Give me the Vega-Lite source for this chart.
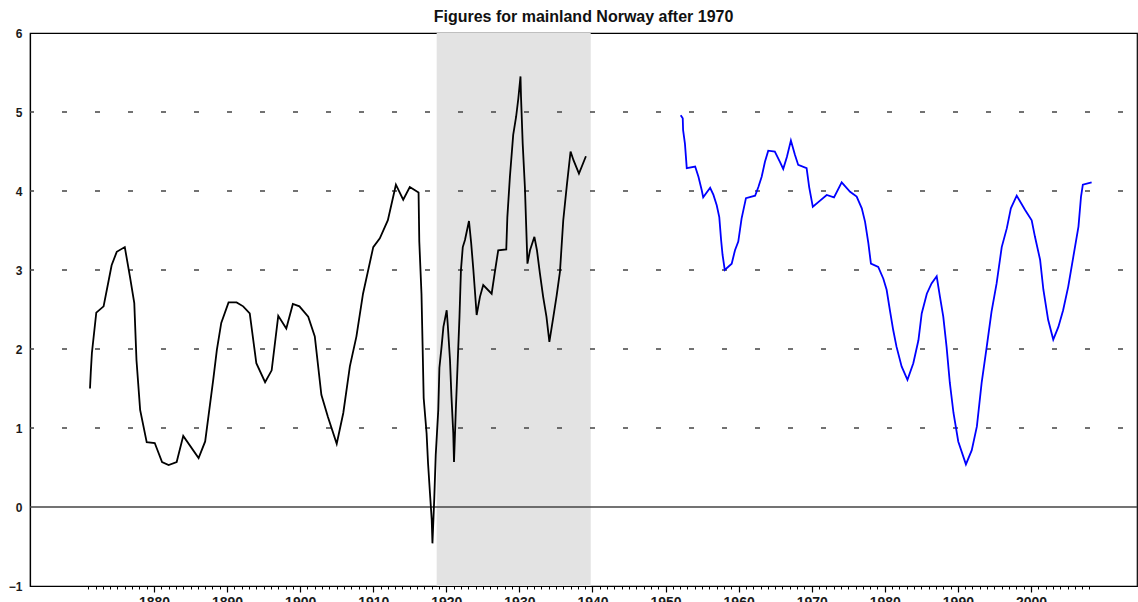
{
  "$schema": "https://vega.github.io/schema/vega-lite/v6.json",
  "width": 1107,
  "height": 553,
  "autosize": {"type": "none"},
  "padding": {"left": 30, "top": 33, "right": 1, "bottom": 16},
  "background": "#ffffff",
  "title": {"text": "Figures for mainland Norway after 1970", "font": "Liberation Sans", "fontSize": 16, "fontWeight": "bold", "color": "#111111", "anchor": "middle", "offset": 2},
  "config": {"view": {"stroke": "#000000", "strokeWidth": 1.2}},
  "resolve": {"axis": {"x": "independent"}},
  "datasets": {
    "band": [{"start": 1918.68, "end": 1939.76}],
    "grid": [{"g": 1}, {"g": 2}, {"g": 3}, {"g": 4}, {"g": 5}],
    "zero": [{"z": 0}],
    "series": [
      {"year": 1871.24, "v": 1.50, "s": "a"}, {"year": 1871.35, "v": 1.71, "s": "a"}, {"year": 1871.5, "v": 1.95, "s": "a"},
      {"year": 1872.1, "v": 2.46, "s": "a"}, {"year": 1873.1, "v": 2.54, "s": "a"}, {"year": 1873.8, "v": 2.87, "s": "a"},
      {"year": 1874.2, "v": 3.06, "s": "a"}, {"year": 1874.9, "v": 3.23, "s": "a"}, {"year": 1876.0, "v": 3.29, "s": "a"},
      {"year": 1876.7, "v": 2.92, "s": "a"}, {"year": 1877.3, "v": 2.58, "s": "a"}, {"year": 1877.6, "v": 1.86, "s": "a"},
      {"year": 1878.1, "v": 1.23, "s": "a"}, {"year": 1879.0, "v": 0.82, "s": "a"}, {"year": 1880.1, "v": 0.81, "s": "a"},
      {"year": 1881.1, "v": 0.57, "s": "a"}, {"year": 1882.0, "v": 0.53, "s": "a"}, {"year": 1883.1, "v": 0.57, "s": "a"},
      {"year": 1884.0, "v": 0.90, "s": "a"}, {"year": 1886.1, "v": 0.62, "s": "a"}, {"year": 1887.0, "v": 0.83, "s": "a"},
      {"year": 1888.1, "v": 1.61, "s": "a"}, {"year": 1888.6, "v": 1.99, "s": "a"}, {"year": 1889.2, "v": 2.33, "s": "a"},
      {"year": 1890.2, "v": 2.59, "s": "a"}, {"year": 1891.3, "v": 2.59, "s": "a"}, {"year": 1892.2, "v": 2.54, "s": "a"},
      {"year": 1893.1, "v": 2.45, "s": "a"}, {"year": 1894.0, "v": 1.82, "s": "a"}, {"year": 1895.2, "v": 1.58, "s": "a"},
      {"year": 1896.1, "v": 1.73, "s": "a"}, {"year": 1897.0, "v": 2.42, "s": "a"}, {"year": 1898.1, "v": 2.26, "s": "a"},
      {"year": 1899.0, "v": 2.57, "s": "a"}, {"year": 1899.9, "v": 2.54, "s": "a"}, {"year": 1901.1, "v": 2.41, "s": "a"},
      {"year": 1902.0, "v": 2.16, "s": "a"}, {"year": 1902.9, "v": 1.42, "s": "a"}, {"year": 1903.8, "v": 1.14, "s": "a"},
      {"year": 1905.0, "v": 0.80, "s": "a"}, {"year": 1905.9, "v": 1.19, "s": "a"}, {"year": 1906.8, "v": 1.78, "s": "a"},
      {"year": 1907.7, "v": 2.16, "s": "a"}, {"year": 1908.6, "v": 2.70, "s": "a"}, {"year": 1910.0, "v": 3.29, "s": "a"},
      {"year": 1910.9, "v": 3.40, "s": "a"}, {"year": 1912.0, "v": 3.63, "s": "a"}, {"year": 1913.1, "v": 4.08, "s": "a"},
      {"year": 1914.1, "v": 3.89, "s": "a"}, {"year": 1915.0, "v": 4.05, "s": "a"}, {"year": 1916.2, "v": 3.98, "s": "a"},
      {"year": 1916.3, "v": 3.36, "s": "a"}, {"year": 1916.6, "v": 2.70, "s": "a"}, {"year": 1916.75, "v": 2.05, "s": "a"},
      {"year": 1916.9, "v": 1.38, "s": "a"}, {"year": 1917.3, "v": 0.93, "s": "a"}, {"year": 1917.5, "v": 0.55, "s": "a"},
      {"year": 1917.75, "v": 0.19, "s": "a"}, {"year": 1918.0, "v": -0.16, "s": "a"}, {"year": 1918.1, "v": -0.46, "s": "a"},
      {"year": 1918.35, "v": 0.11, "s": "a"}, {"year": 1918.55, "v": 0.66, "s": "a"}, {"year": 1918.9, "v": 1.23, "s": "a"},
      {"year": 1919.05, "v": 1.76, "s": "a"}, {"year": 1919.35, "v": 2.03, "s": "a"}, {"year": 1919.6, "v": 2.28, "s": "a"},
      {"year": 1920.05, "v": 2.49, "s": "a"}, {"year": 1920.2, "v": 2.30, "s": "a"}, {"year": 1920.5, "v": 1.86, "s": "a"},
      {"year": 1920.7, "v": 1.40, "s": "a"}, {"year": 1920.95, "v": 0.93, "s": "a"}, {"year": 1921.05, "v": 0.57, "s": "a"},
      {"year": 1921.3, "v": 1.23, "s": "a"}, {"year": 1921.55, "v": 1.82, "s": "a"}, {"year": 1921.8, "v": 2.41, "s": "a"},
      {"year": 1922.0, "v": 3.00, "s": "a"}, {"year": 1922.25, "v": 3.29, "s": "a"}, {"year": 1922.55, "v": 3.38, "s": "a"},
      {"year": 1923.1, "v": 3.62, "s": "a"}, {"year": 1923.4, "v": 3.34, "s": "a"}, {"year": 1923.7, "v": 3.00, "s": "a"},
      {"year": 1923.9, "v": 2.75, "s": "a"}, {"year": 1924.15, "v": 2.43, "s": "a"}, {"year": 1924.6, "v": 2.66, "s": "a"},
      {"year": 1925.05, "v": 2.81, "s": "a"}, {"year": 1926.2, "v": 2.70, "s": "a"}, {"year": 1926.65, "v": 2.98, "s": "a"},
      {"year": 1927.1, "v": 3.25, "s": "a"}, {"year": 1928.2, "v": 3.26, "s": "a"}, {"year": 1928.35, "v": 3.67, "s": "a"},
      {"year": 1928.7, "v": 4.18, "s": "a"}, {"year": 1929.15, "v": 4.71, "s": "a"}, {"year": 1929.55, "v": 4.94, "s": "a"},
      {"year": 1929.85, "v": 5.17, "s": "a"}, {"year": 1930.15, "v": 5.45, "s": "a"}, {"year": 1930.22, "v": 5.19, "s": "a"},
      {"year": 1930.45, "v": 4.60, "s": "a"}, {"year": 1930.75, "v": 4.05, "s": "a"}, {"year": 1931.1, "v": 3.08, "s": "a"},
      {"year": 1931.45, "v": 3.25, "s": "a"}, {"year": 1932.05, "v": 3.42, "s": "a"}, {"year": 1932.4, "v": 3.25, "s": "a"},
      {"year": 1932.8, "v": 2.96, "s": "a"}, {"year": 1933.25, "v": 2.66, "s": "a"}, {"year": 1933.7, "v": 2.41, "s": "a"},
      {"year": 1934.1, "v": 2.09, "s": "a"}, {"year": 1934.65, "v": 2.41, "s": "a"}, {"year": 1935.1, "v": 2.68, "s": "a"},
      {"year": 1935.55, "v": 2.98, "s": "a"}, {"year": 1936.0, "v": 3.63, "s": "a"}, {"year": 1936.5, "v": 4.08, "s": "a"},
      {"year": 1937.0, "v": 4.50, "s": "a"}, {"year": 1937.4, "v": 4.39, "s": "a"}, {"year": 1938.15, "v": 4.22, "s": "a"},
      {"year": 1939.1, "v": 4.44, "s": "a"},
      {"year": 1952.07, "v": 4.96, "s": "b"}, {"year": 1952.35, "v": 4.92, "s": "b"}, {"year": 1952.4, "v": 4.77, "s": "b"},
      {"year": 1952.65, "v": 4.60, "s": "b"}, {"year": 1952.9, "v": 4.29, "s": "b"}, {"year": 1954.05, "v": 4.31, "s": "b"},
      {"year": 1954.5, "v": 4.18, "s": "b"}, {"year": 1954.95, "v": 4.01, "s": "b"}, {"year": 1955.15, "v": 3.92, "s": "b"},
      {"year": 1956.1, "v": 4.04, "s": "b"}, {"year": 1956.55, "v": 3.95, "s": "b"}, {"year": 1957.0, "v": 3.82, "s": "b"},
      {"year": 1957.35, "v": 3.67, "s": "b"}, {"year": 1957.6, "v": 3.38, "s": "b"}, {"year": 1957.8, "v": 3.19, "s": "b"},
      {"year": 1958.1, "v": 3.00, "s": "b"}, {"year": 1959.05, "v": 3.08, "s": "b"}, {"year": 1959.5, "v": 3.25, "s": "b"},
      {"year": 1959.95, "v": 3.36, "s": "b"}, {"year": 1960.4, "v": 3.65, "s": "b"}, {"year": 1961.0, "v": 3.91, "s": "b"},
      {"year": 1962.25, "v": 3.94, "s": "b"}, {"year": 1962.7, "v": 4.05, "s": "b"}, {"year": 1963.15, "v": 4.18, "s": "b"},
      {"year": 1963.6, "v": 4.37, "s": "b"}, {"year": 1964.05, "v": 4.51, "s": "b"}, {"year": 1964.95, "v": 4.50, "s": "b"},
      {"year": 1965.65, "v": 4.37, "s": "b"}, {"year": 1966.1, "v": 4.28, "s": "b"}, {"year": 1966.6, "v": 4.43, "s": "b"},
      {"year": 1967.15, "v": 4.64, "s": "b"}, {"year": 1967.7, "v": 4.46, "s": "b"}, {"year": 1968.15, "v": 4.33, "s": "b"},
      {"year": 1969.3, "v": 4.29, "s": "b"}, {"year": 1969.65, "v": 4.05, "s": "b"}, {"year": 1970.15, "v": 3.80, "s": "b"},
      {"year": 1970.9, "v": 3.86, "s": "b"}, {"year": 1972.05, "v": 3.95, "s": "b"}, {"year": 1973.05, "v": 3.92, "s": "b"},
      {"year": 1974.1, "v": 4.11, "s": "b"}, {"year": 1975.25, "v": 3.99, "s": "b"}, {"year": 1976.15, "v": 3.93, "s": "b"},
      {"year": 1976.85, "v": 3.78, "s": "b"}, {"year": 1977.3, "v": 3.61, "s": "b"}, {"year": 1977.75, "v": 3.34, "s": "b"},
      {"year": 1978.1, "v": 3.08, "s": "b"}, {"year": 1979.1, "v": 3.04, "s": "b"}, {"year": 1979.8, "v": 2.89, "s": "b"},
      {"year": 1980.25, "v": 2.75, "s": "b"}, {"year": 1980.7, "v": 2.49, "s": "b"}, {"year": 1981.15, "v": 2.24, "s": "b"},
      {"year": 1981.6, "v": 2.03, "s": "b"}, {"year": 1982.3, "v": 1.78, "s": "b"}, {"year": 1983.1, "v": 1.61, "s": "b"},
      {"year": 1983.9, "v": 1.82, "s": "b"}, {"year": 1984.6, "v": 2.11, "s": "b"}, {"year": 1985.05, "v": 2.45, "s": "b"},
      {"year": 1985.75, "v": 2.70, "s": "b"}, {"year": 1986.4, "v": 2.83, "s": "b"}, {"year": 1987.1, "v": 2.92, "s": "b"},
      {"year": 1987.55, "v": 2.66, "s": "b"}, {"year": 1988.0, "v": 2.41, "s": "b"}, {"year": 1988.45, "v": 2.03, "s": "b"},
      {"year": 1988.9, "v": 1.57, "s": "b"}, {"year": 1989.4, "v": 1.19, "s": "b"}, {"year": 1990.05, "v": 0.83, "s": "b"},
      {"year": 1991.1, "v": 0.54, "s": "b"}, {"year": 1991.9, "v": 0.72, "s": "b"}, {"year": 1992.6, "v": 1.02, "s": "b"},
      {"year": 1993.25, "v": 1.57, "s": "b"}, {"year": 1993.95, "v": 2.03, "s": "b"}, {"year": 1994.6, "v": 2.47, "s": "b"},
      {"year": 1995.3, "v": 2.83, "s": "b"}, {"year": 1996.0, "v": 3.29, "s": "b"}, {"year": 1996.7, "v": 3.53, "s": "b"},
      {"year": 1997.25, "v": 3.78, "s": "b"}, {"year": 1998.05, "v": 3.94, "s": "b"}, {"year": 1999.2, "v": 3.76, "s": "b"},
      {"year": 2000.1, "v": 3.63, "s": "b"}, {"year": 2000.55, "v": 3.42, "s": "b"}, {"year": 2001.25, "v": 3.13, "s": "b"},
      {"year": 2001.7, "v": 2.75, "s": "b"}, {"year": 2002.35, "v": 2.37, "s": "b"}, {"year": 2003.05, "v": 2.12, "s": "b"},
      {"year": 2003.75, "v": 2.28, "s": "b"}, {"year": 2004.4, "v": 2.49, "s": "b"}, {"year": 2005.1, "v": 2.79, "s": "b"},
      {"year": 2005.8, "v": 3.17, "s": "b"}, {"year": 2006.5, "v": 3.55, "s": "b"}, {"year": 2006.85, "v": 3.93, "s": "b"},
      {"year": 2007.1, "v": 4.08, "s": "b"}, {"year": 2008.3, "v": 4.11, "s": "b"}
    ]
  },
  "layer": [
    {
      "data": {"name": "band"},
      "mark": {"type": "rect", "color": "#e3e3e3"},
      "encoding": {
        "x": {"field": "start", "type": "quantitative", "scale": {"domain": [1863.03, 2014.51], "nice": false, "zero": false},
          "title": null,
          "axis": {
            "orient": "bottom",
            "values": [1871,1872,1873,1874,1875,1876,1877,1878,1879,1880,1881,1882,1883,1884,1885,1886,1887,1888,1889,1890,1891,1892,1893,1894,1895,1896,1897,1898,1899,1900,1901,1902,1903,1904,1905,1906,1907,1908,1909,1910,1911,1912,1913,1914,1915,1916,1917,1918,1919,1920,1921,1922,1923,1924,1925,1926,1927,1928,1929,1930,1931,1932,1933,1934,1935,1936,1937,1938,1939,1940,1941,1942,1943,1944,1945,1946,1947,1948,1949,1950,1951,1952,1953,1954,1955,1956,1957,1958,1959,1960,1961,1962,1963,1964,1965,1966,1967,1968,1969,1970,1971,1972,1973,1974,1975,1976,1977,1978,1979,1980,1981,1982,1983,1984,1985,1986,1987,1988,1989,1990,1991,1992,1993,1994,1995,1996,1997,1998,1999,2000,2001,2002,2003,2004,2005,2006,2007,2008],
            "labels": false,
            "tickSize": 3,
            "tickColor": "#000000",
            "tickWidth": 1,
            "domainColor": "#000000",
            "domainWidth": 1.2,
            "grid": false
          }
        },
        "x2": {"field": "end"}
      }
    },
    {
      "data": {"name": "grid"},
      "mark": {"type": "rule", "color": "#444444", "strokeWidth": 1.5, "strokeDash": [5, 28], "strokeDashOffset": 19},
      "encoding": {
        "y": {"field": "g", "type": "quantitative", "scale": {"domain": [-1, 6], "nice": false, "zero": false},
          "title": null,
          "axis": {
            "values": [-1, 0, 1, 2, 3, 4, 5, 6],
            "format": "d",
            "tickSize": 0,
            "labelPadding": 8,
            "labelFont": "Liberation Sans",
            "labelFontSize": 12,
            "labelFontWeight": "bold",
            "labelColor": "#1a1a1a",
            "domainColor": "#000000",
            "domainWidth": 1.2,
            "grid": false
          }
        }
      }
    },
    {
      "data": {"name": "zero"},
      "mark": {"type": "rule", "color": "#444444", "strokeWidth": 1.5},
      "encoding": {
        "y": {"field": "z", "type": "quantitative", "scale": {"domain": [-1, 6], "nice": false, "zero": false}}
      }
    },
    {
      "data": {"name": "series"},
      "mark": {"type": "line", "strokeWidth": 1.8},
      "encoding": {
        "x": {"field": "year", "type": "quantitative", "scale": {"domain": [1863.03, 2014.51], "nice": false, "zero": false},
          "title": null,
          "axis": {
            "orient": "bottom",
            "values": [1880, 1890, 1900, 1910, 1920, 1930, 1940, 1950, 1960, 1970, 1980, 1990, 2000],
            "format": "d",
            "labelFont": "Liberation Sans",
            "labelFontSize": 14,
            "labelFontWeight": "bold",
            "labelColor": "#1a1a1a",
            "labelPadding": 3,
            "labelBaseline": "top",
            "labelFlush": false,
            "labelOverlap": false,
            "tickSize": 6,
            "tickColor": "#000000",
            "tickWidth": 1.2,
            "domain": false,
            "grid": false
          }
        },
        "y": {"field": "v", "type": "quantitative", "scale": {"domain": [-1, 6], "nice": false, "zero": false}},
        "color": {"field": "s", "type": "nominal", "scale": {"domain": ["a", "b"], "range": ["#000000", "#0000ff"]}, "legend": null}
      }
    }
  ]
}
